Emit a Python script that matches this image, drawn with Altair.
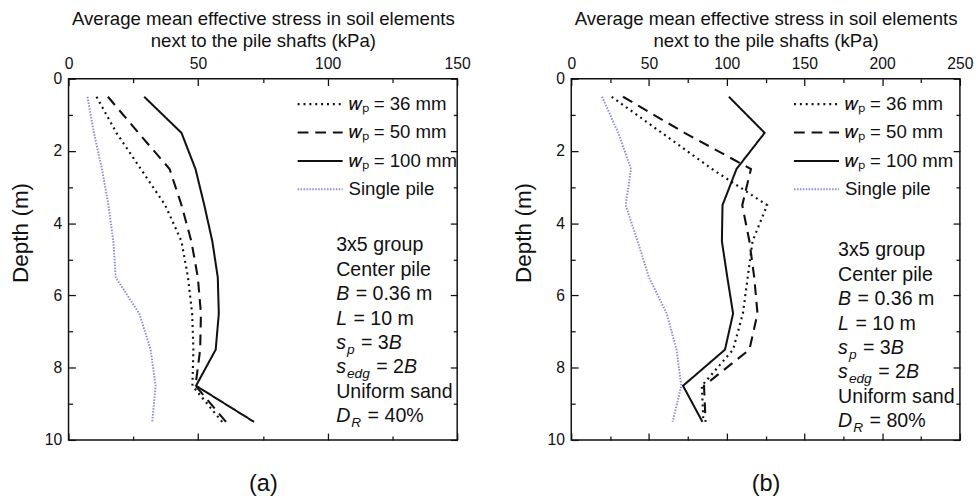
import altair as alt
import pandas as pd

# ---------------- data ----------------
depth = [0.5, 1.5, 2.5, 3.5, 4.5, 5.5, 6.5, 7.5, 8.5, 9.5]
series_names = ["𝑤ₚ = 36 mm", "𝑤ₚ = 50 mm", "𝑤ₚ = 100 mm", "Single pile"]

a_w36 = [10.8, 18.5, 27.9, 37.3, 43.6, 46.1, 47.7, 48.2, 47.8, 59.3]
a_w50 = [15.2, 27.0, 39.0, 43.6, 47.4, 49.9, 51.1, 50.8, 49.0, 60.8]
a_w100 = [29.2, 43.6, 49.0, 52.4, 55.5, 57.6, 58.0, 56.8, 49.2, 71.6]
a_single = [7.3, 9.8, 12.9, 15.4, 17.3, 18.2, 27.3, 31.7, 33.6, 32.3]

b_w36 = [26.0, 58.3, 90.6, 126.0, 116.6, 113.5, 110.4, 104.1, 84.0, 85.0]
b_w50 = [33.3, 72.9, 115.6, 110.0, 114.6, 117.7, 119.8, 114.6, 85.4, 86.4]
b_w100 = [101.4, 124.4, 106.3, 97.3, 96.9, 100.4, 104.1, 98.9, 71.9, 84.4]
b_single = [19.8, 30.2, 38.5, 35.0, 42.7, 50.0, 61.4, 67.7, 70.8, 65.2]

x_title = ["Average mean effective stress in soil elements", "next to the pile shafts (kPa)"]
y_title = "Depth (m)"

# annotation lines: (text, italic, subscript)
annot_a = [
    [("3x5 group", False, False)],
    [("Center pile", False, False)],
    [("B", True, False), (" = 0.36 m", False, False)],
    [("L", True, False), (" = 10 m", False, False)],
    [("s", True, False), ("p", True, True), (" = 3", False, False), ("B", True, False)],
    [("s", True, False), ("edg", True, True), (" = 2", False, False), ("B", True, False)],
    [("Uniform sand", False, False)],
    [("D", True, False), ("R", True, True), (" = 40%", False, False)],
]
annot_b = [line[:] for line in annot_a[:-1]] + [[("D", True, False), ("R", True, True), (" = 80%", False, False)]]

# ---------------- styling ----------------
FONT = "Liberation Sans"
TXT = "#111111"
W, H = 397, 369
colors = ["#111111", "#111111", "#111111", "#8a8ad8"]
dashes = [[2, 4], [11, 7], [1, 0], [1.5, 1.5]]
widths = [2.2, 2, 2, 1.3]

AW = {' ': 278, '=': 584, '.': 278, '%': 889, 'x': 500, 'g': 556, 'r': 333, 'o': 556,
      'u': 556, 'p': 556, 'C': 722, 'e': 556, 'n': 556, 't': 278, 'i': 222, 'l': 222,
      'B': 667, 'L': 556, 's': 500, 'd': 556, 'U': 722, 'f': 278, 'a': 556, 'D': 722,
      'R': 722, 'm': 833}


def text_width(t, size):
    return sum(AW.get(c, 556) for c in t) / 1000.0 * size


def make_df(vals_list):
    rows = []
    for name, vals in zip(series_names, vals_list):
        for d, v in zip(depth, vals):
            rows.append({"series": name, "depth": d, "stress": v})
    return pd.DataFrame(rows)


def panel(df, xmax, letter, annot, legend_x, annot_x, annot_y0):
    xs = alt.Scale(domain=[0, xmax], nice=False, zero=False)
    ys = alt.Scale(domain=[0, 10], reverse=True, nice=False)
    major_x = list(range(0, xmax + 1, 50))
    minor_x = list(range(25, xmax, 50))
    major_y = [0, 2, 4, 6, 8, 10]
    minor_y = [1, 3, 5, 7, 9]
    base = alt.Chart(df)

    leg = alt.Legend(title=None, orient="none", legendX=legend_x, legendY=7,
                     symbolType="M-1.3,0L1.3,0", symbolSize=1250, labelFontSize=19,
                     labelFont=FONT, labelColor=TXT, labelOffset=10, rowPadding=0,
                     padding=0, labelLimit=300)

    lines = base.mark_line(strokeCap="butt").encode(
        x=alt.X("stress:Q", scale=xs, axis=alt.Axis(
            orient="top", title=x_title, values=major_x, ticks=False, domain=False,
            grid=False, labelFontSize=16, labelPadding=7, labelFlush=False,
            titleFontSize=19, titlePadding=6, titleLineHeight=22,
            titleFontWeight="normal", labelColor=TXT, titleColor=TXT,
            labelFont=FONT, titleFont=FONT)),
        y=alt.Y("depth:Q", scale=ys, axis=alt.Axis(
            orient="left", title=y_title, values=major_y, ticks=False, domain=False,
            grid=False, labelFontSize=16, labelPadding=7, labelFlush=False,
            titleFontSize=23, titlePadding=12, titleY=157,
            titleFontWeight="normal", labelColor=TXT, titleColor=TXT,
            labelFont=FONT, titleFont=FONT)),
        color=alt.Color("series:N", scale=alt.Scale(domain=series_names, range=colors), legend=leg),
        strokeDash=alt.StrokeDash("series:N", scale=alt.Scale(domain=series_names, range=dashes), legend=leg),
        strokeWidth=alt.StrokeWidth("series:N", scale=alt.Scale(domain=series_names, range=widths), legend=leg),
        order=alt.Order("depth:Q"),
    )

    def tick_layer(xo, yo, xv, yv, size, title=None):
        xa = dict(orient=xo, values=xv, labels=False, ticks=True,
                  tickSize=alt.ExprRef(expr=str(-size)), tickColor="#111", tickWidth=1.3,
                  domain=False, grid=False, title=title)
        if title:
            xa.update(titleFontSize=24, titleFont=FONT, titleFontWeight="normal",
                      titleColor=TXT, titlePadding=32)
        return base.mark_line(opacity=0).encode(
            x=alt.X("stress:Q", scale=xs, axis=alt.Axis(**xa)),
            y=alt.Y("depth:Q", scale=ys, axis=alt.Axis(
                orient=yo, values=yv, labels=False, ticks=True,
                tickSize=alt.ExprRef(expr=str(-size)), tickColor="#111", tickWidth=1.3,
                domain=False, grid=False, title=None)),
            order=alt.Order("depth:Q"),
        )

    layers = [
        lines,
        tick_layer("top", "left", major_x, major_y, 7),
        tick_layer("top", "left", minor_x, minor_y, 4),
        tick_layer("bottom", "right", major_x, major_y, 7, title=letter),
        tick_layer("bottom", "right", minor_x, minor_y, 4),
    ]

    fs, sub_fs = 20, 14
    for i, line in enumerate(annot):
        xoff = 0.0
        ybase = annot_y0 + 24.9 * i
        for (t, ital, sub) in line:
            size = sub_fs if sub else fs
            stripped = t.lstrip(" ")
            xoff += text_width(t[: len(t) - len(stripped)], size)
            layers.append(
                alt.Chart(pd.DataFrame({"t": [stripped]})).mark_text(
                    align="left", baseline="alphabetic", font=FONT, fontSize=size,
                    fontStyle="italic" if ital else "normal", color=TXT,
                ).encode(text="t:N", x=alt.value(annot_x + xoff),
                         y=alt.value(ybase + (5 if sub else 0)))
            )
            xoff += text_width(stripped, size) + (1 if ital else 0)

    return alt.layer(*layers).resolve_axis(x="independent", y="independent").properties(
        width=W, height=H)


pa = panel(make_df([a_w36, a_w50, a_w100, a_single]), 150, "(a)", annot_a, 238, 273.4, 176.5)
pb = panel(make_df([b_w36, b_w50, b_w100, b_single]), 250, "(b)", annot_b, 231.5, 272.6, 181.5)

chart = alt.hconcat(pa, pb, spacing=40.5).resolve_scale(
    x="independent", y="independent", color="independent",
    strokeDash="independent", strokeWidth="independent",
).resolve_legend(color="independent", strokeDash="independent", strokeWidth="independent").properties(
    padding={"left": 9, "top": 4, "right": 5, "bottom": 0}, background="white"
).configure_view(stroke="#111111", strokeWidth=1.5)

chart.save("out.html", embed_options={"renderer": "svg", "actions": False})
